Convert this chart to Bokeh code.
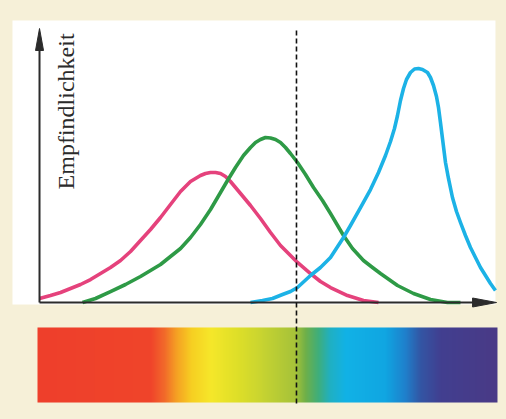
import numpy as np
from bokeh.plotting import figure
from bokeh.models import Range1d
from bokeh.core.properties import value
from bokeh.embed import file_html
from bokeh.resources import INLINE

# ---------------- data (relative units: x 0..100 along the spectrum, y 0..100 sensitivity)
red_x = [0.00, 2.40, 4.59, 6.77, 8.95, 11.14, 13.32, 15.50, 17.69, 19.87, 22.05, 24.24,
         26.42, 28.60, 30.79, 31.88, 32.97, 34.06, 35.15, 36.24, 37.34, 38.43, 39.52,
         40.61, 41.70, 43.89, 46.07, 48.25, 50.44, 52.62, 54.80, 56.33, 59.17, 61.35,
         63.54, 67.25, 70.74, 74.02]
red_y = [1.46, 2.55, 3.65, 5.11, 6.57, 8.39, 10.58, 12.77, 15.33, 18.61, 22.63, 26.64,
         31.02, 35.77, 40.51, 42.34, 44.16, 45.26, 46.35, 47.08, 47.45, 47.45, 47.08,
         45.99, 44.16, 39.78, 35.40, 30.66, 25.55, 20.80, 17.15, 14.60, 10.58, 7.66,
         5.47, 2.55, 0.73, 0.00]

green_x = [9.39, 12.23, 15.50, 18.78, 22.05, 24.24, 26.42, 28.60, 30.79, 32.97, 35.15,
           37.34, 39.52, 41.05, 42.79, 44.54, 46.07, 47.16, 48.25, 49.34, 50.44, 51.53,
           52.62, 53.71, 54.80, 56.33, 58.08, 59.83, 61.79, 63.54, 66.38, 68.34, 70.74,
           72.71, 74.45, 78.17, 81.66, 85.37, 89.08, 91.92]
green_y = [0.00, 1.46, 4.01, 6.57, 9.49, 11.68, 13.87, 16.79, 19.71, 23.72, 28.47,
           33.94, 40.15, 44.53, 49.27, 53.65, 56.57, 58.39, 59.49, 60.22, 60.04, 59.49,
           58.39, 56.57, 54.38, 51.09, 46.72, 41.97, 37.23, 32.48, 24.45, 19.71, 15.33,
           12.77, 10.58, 6.20, 3.28, 1.09, 0.00, 0.00]

blue_x = [46.07, 48.69, 50.87, 53.06, 54.80, 56.33, 59.17, 61.35, 63.54, 66.38, 67.90,
          70.09, 72.27, 74.02, 75.55, 76.64, 77.51, 78.17, 78.82, 79.48, 80.13, 81.00,
          81.88, 82.75, 83.62, 84.72, 85.37, 86.03, 86.68, 87.12, 87.55, 87.99, 88.65,
          89.30, 90.17, 91.05, 91.92, 93.01, 94.10, 96.29, 98.47, 99.56]
blue_y = [0.00, 0.73, 1.46, 2.92, 4.01, 5.47, 9.85, 12.77, 16.42, 23.72, 28.10,
          34.67, 41.24, 47.45, 53.65, 58.76, 63.50, 68.25, 73.72, 78.10, 81.39, 83.94,
          85.22, 85.40, 85.04, 83.94, 82.12, 79.20, 75.18, 71.17, 65.69, 59.85, 51.09,
          45.26, 38.32, 33.21, 29.20, 24.45, 20.07, 12.77, 6.93, 4.38]

marker_x = 56.11          # dashed reference wavelength
y_label = "Empfindlichkeit"

# spectrum colour stops (position along x, colour)
spec_pos = [-0.44, 24.2, 27.1, 29.7, 33.0, 37.3, 42.8, 49.3, 55.9, 58.1, 60.9, 63.5,
            66.8, 75.5, 79.9, 83.2, 87.6, 100.0]
spec_col = ["#ee3f2c", "#f0452a", "#f26a2a", "#f5a024", "#f7cf22", "#f6e82a", "#e0e028",
            "#c4d232", "#a6c23a", "#6fb04a", "#3fae7c", "#20b0c4", "#12b2e6", "#10a6e2",
            "#2080cc", "#3456a4", "#423f90", "#4a3a86"]

# ---------------- styling / layout
CREAM = "#f6f0d8"
AXIS = "#2b2b2b"
PX_X = 4.58   # pixels per x unit
PX_Y = 2.74   # pixels per y unit

p = figure(width=506, height=419, x_range=Range1d(-8.52, 101.97),
           y_range=Range1d(-42.70, 110.22), x_axis_type=None, y_axis_type=None,
           min_border=0, toolbar_location=None, output_backend="svg",
           background_fill_color=CREAM, border_fill_color=CREAM,
           outline_line_color=None)
p.grid.visible = False

# white panel behind the graph
p.quad(left=-5.90, right=99.56, bottom=-0.73, top=102.9, fill_color="white",
       line_color=None)

# spectrum bar
sx0, sx1, sy0, sy1 = spec_pos[0], spec_pos[-1], -36.5, -9.12
ncols = 461
xs = np.linspace(sx0, sx1, ncols)
rgb = np.array([[int(c[i:i + 2], 16) for i in (1, 3, 5)] for c in spec_col], dtype=float)
r = np.interp(xs, spec_pos, rgb[:, 0])
g = np.interp(xs, spec_pos, rgb[:, 1])
b = np.interp(xs, spec_pos, rgb[:, 2])
img = np.empty((2, ncols), dtype=np.uint32)
view = img.view(dtype=np.uint8).reshape((2, ncols, 4))
for k in range(2):
    view[k, :, 0] = r.astype(np.uint8)
    view[k, :, 1] = g.astype(np.uint8)
    view[k, :, 2] = b.astype(np.uint8)
    view[k, :, 3] = 255
p.image_rgba(image=[img], x=sx0, y=sy0, dw=sx1 - sx0, dh=sy1 - sy0)

# curves
p.line(red_x, red_y, line_color="#e5427c", line_width=3.6, line_join="round")
p.line(green_x, green_y, line_color="#2e9a46", line_width=3.6, line_join="round")
p.line(blue_x, blue_y, line_color="#1cb2e6", line_width=3.6, line_join="round")

# axes with long narrow arrow heads
y_tip, x_tip = 100.0, 99.8
hl_y, hw_y = 22 / PX_Y, 4 / PX_X
hl_x, hw_x = 24 / PX_X, 4.5 / PX_Y
p.line([0, 0], [0, y_tip - hl_y * 0.8], line_color=AXIS, line_width=2)
p.line([0, x_tip - hl_x * 0.8], [0, 0], line_color=AXIS, line_width=2)
p.patch([-hw_y, 0, hw_y], [y_tip - hl_y, y_tip, y_tip - hl_y], fill_color=AXIS,
        line_color=AXIS, line_width=1)
p.patch([x_tip - hl_x, x_tip, x_tip - hl_x], [-hw_x, 0, hw_x], fill_color=AXIS,
        line_color=AXIS, line_width=1)

# dashed marker through the graph and the spectrum
p.line([marker_x, marker_x], [99.3, -36.9], line_color="#111111", line_width=1.6,
       line_dash="5 3")

# axis label
p.text(x=[5.68], y=[98.2], text=[y_label], angle=np.pi / 2, text_align="right",
       text_baseline="alphabetic", text_font=value("Liberation Serif"),
       text_font_size="24px", text_color="#2b2b2b")

html = file_html(p, INLINE)
html = html.replace("</head>", "<style>body{background:%s;}</style></head>" % CREAM)
open("out.html", "w").write(html)
